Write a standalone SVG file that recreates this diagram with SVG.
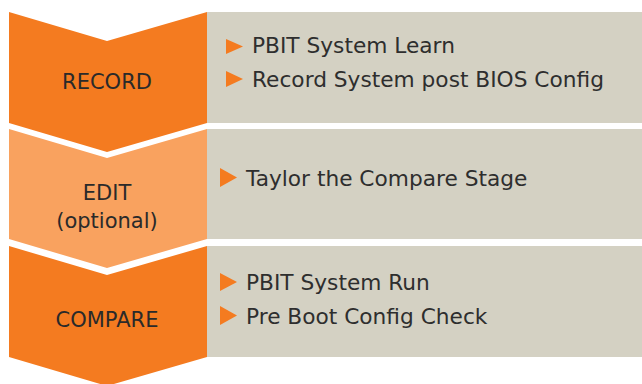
<svg xmlns="http://www.w3.org/2000/svg" width="642" height="384" viewBox="0 0 642 384">
  <defs>
    <style>
      .dark { fill: #f47b20; }
      .light { fill: #f9a25f; }
      .panel { fill: #d4d1c3; }
      .bullet { fill: #f47b20; }
      .label { font-family: "DejaVu Sans", "Liberation Sans", sans-serif; font-size: 21px; fill: #2a2a2a; text-anchor: middle; }
      .item { font-family: "DejaVu Sans", "Liberation Sans", sans-serif; font-size: 21.7px; fill: #2e2e2e; }
    </style>
  </defs>
  <rect width="642" height="384" fill="#ffffff"/>
  <g id="connectors"/>
  <g id="record">
    <rect class="panel" x="207" y="12" width="435" height="111"/>
    <polygon class="dark" points="9,12 107,41 207,12 207,123 107,152 9,123"/>
    <text class="label" x="107" y="89">RECORD</text>
    <polygon class="bullet" points="226,39 243,46.5 226,54"/>
    <text class="item" x="252" y="53">PBIT System Learn</text>
    <polygon class="bullet" points="226,71 243,79 226,87"/>
    <text class="item" x="252" y="87">Record System post BIOS Config</text>
  </g>
  <g id="edit">
    <rect class="panel" x="207" y="129" width="435" height="110"/>
    <polygon class="light" points="9,129 107,158 207,129 207,239 107,268 9,239"/>
    <text class="label" x="107" y="200">EDIT</text>
    <text class="label" x="107" y="228">(optional)</text>
    <polygon class="bullet" points="220,168 237,177.5 220,187"/>
    <text class="item" x="246" y="186">Taylor the Compare Stage</text>
  </g>
  <g id="compare">
    <rect class="panel" x="207" y="246" width="435" height="111"/>
    <polygon class="dark" points="9,246 107,275 207,246 207,357 107,386 9,357"/>
    <text class="label" x="107" y="327">COMPARE</text>
    <polygon class="bullet" points="220,273 237,282 220,291"/>
    <text class="item" x="246" y="290">PBIT System Run</text>
    <polygon class="bullet" points="220,306 237,315.5 220,325"/>
    <text class="item" x="246" y="324">Pre Boot Config Check</text>
  </g>
</svg>
